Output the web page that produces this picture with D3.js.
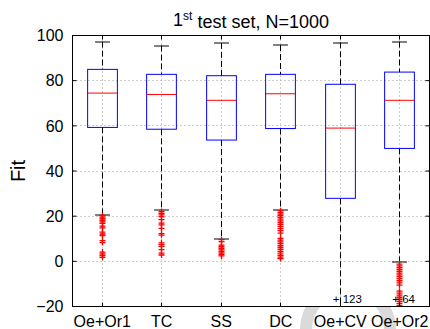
<!DOCTYPE html>
<html>
<head>
<meta charset="utf-8">
<script src="https://cdn.jsdelivr.net/npm/d3@7"></script>
<style>
  body { margin: 0; background: #fff; }
  text { font-family: "Liberation Sans", Arial, Helvetica, sans-serif; fill: #000; }
</style>
</head>
<body>
<div id="chart"></div>
<script>
// box statistics
let categories = ["Oe+Or1", "TC", "SS", "DC", "Oe+CV", "Oe+Or2"];
let upperWhisker = [97.3, 95.6, 96.7, 95.8, 97.0, 97.3];
let q3Values = [85.0, 82.8, 82.2, 82.8, 78.4, 83.8];
let medians = [74.5, 73.9, 71.3, 74.2, 59.0, 71.3];
let q1Values = [59.3, 58.5, 53.7, 58.8, 27.9, 50.0];
let lowerWhisker = [20.7, 22.9, 10.3, 22.9, -35, 0.0];
let outliers = [
    [20.3, 19.6, 18.9, 18.2, 17.5, 16.8, 15.6, 14.8, 12.9, 12.1, 11.4, 9.2, 8.3, 4.1, 3.3, 2.6, 1.8],
    [22.1, 21.3, 20.6, 19.8, 18.5, 16.9, 16.1, 14.6, 12.3, 11.6, 8.2, 7.4, 6.6, 5.2, 3.6, 2.8],
    [9.6, 8.7, 7.2, 6.5, 5.8, 5.1, 4.4, 3.7, 3.0, 2.4],
    [22.3, 21.6, 20.9, 20.2, 19.5, 18.7, 17.9, 17.1, 16.3, 15.4, 14.5, 13.6, 12.5, 10.2, 9.4, 8.6, 7.8, 6.9, 6.1, 5.3, 4.4, 3.6, 2.7, 1.9, 1.2],
    [],
    [-1.2, -2.0, -2.8, -3.6, -4.4, -5.2, -6.0, -6.8, -7.7, -8.6, -9.5, -10.5, -13.2, -14.1, -15.0, -15.9, -16.8, -17.7, -18.6, -19.5]
];
let offscaleCounts = [0, 0, 0, 0, 123, 64];
let yTicks = [-20, 0, 20, 40, 60, 80, 100];

let boxes = categories.map((c, i) => ({
    name: c, hi: upperWhisker[i], q3: q3Values[i], med: medians[i],
    q1: q1Values[i], lo: lowerWhisker[i], out: outliers[i], extra: offscaleCounts[i]
}));

let margin = {top: 35.5, right: 0.5, bottom: 22.5, left: 72.5},
    W = 430, H = 329,
    width = W - margin.left - margin.right,
    height = H - margin.top - margin.bottom;

let svg = d3.select("#chart").append("svg")
    .attr("width", W)
    .attr("height", H);

// faint watermark ring peeking out under the axes
svg.append("circle")
    .attr("cx", 348).attr("cy", 330).attr("r", 42)
    .attr("fill", "none")
    .attr("stroke", "#dadada")
    .attr("stroke-width", 12);

let g = svg.append("g").attr("transform", "translate(" + margin.left + "," + margin.top + ")");

g.append("rect").attr("width", width).attr("height", height).attr("fill", "#fff");

svg.append("defs").append("clipPath").attr("id", "clip")
    .append("rect").attr("width", width).attr("height", height);

let xScale = d3.scaleBand()
    .domain(categories)
    .range([0, width])
    .padding(0);

let yScale = d3.scaleLinear()
    .domain([-20, 100])
    .range([height, 0]);

let bw = xScale.bandwidth();
let cx = (d) => xScale(d) + bw / 2;

//Grid lines
let grid = g.append("g").attr("stroke", "#9a9a9a").attr("stroke-dasharray", "1,3").attr("stroke-width", 1);
grid.selectAll(".gy").data(yTicks.filter(t => t > -20 && t < 100)).enter().append("line")
    .attr("x1", 0).attr("x2", width)
    .attr("y1", d => Math.round(yScale(d))).attr("y2", d => Math.round(yScale(d)));
grid.selectAll(".gx").data(categories).enter().append("line")
    .attr("x1", d => Math.round(cx(d))).attr("x2", d => Math.round(cx(d)))
    .attr("y1", 0).attr("y2", height);

let plot = g.append("g").attr("clip-path", "url(#clip)");

let bx = plot.selectAll(".box").data(boxes).enter().append("g")
    .attr("transform", d => "translate(" + Math.round(cx(d.name)) + ",0)");

//Whiskers
bx.append("line")
    .attr("y1", d => yScale(d.hi)).attr("y2", d => yScale(d.q3))
    .attr("stroke", "#000").attr("stroke-dasharray", "6,3");
bx.append("line")
    .attr("y1", d => yScale(d.q1)).attr("y2", d => yScale(d.lo))
    .attr("stroke", "#000").attr("stroke-dasharray", "6,3");

//Caps
[["hi"], ["lo"]].forEach(k => {
    bx.append("line")
        .attr("x1", -bw * 0.125).attr("x2", bw * 0.125)
        .attr("y1", d => Math.round(yScale(d[k])) + 0.5).attr("y2", d => Math.round(yScale(d[k])) + 0.5)
        .attr("stroke", "#000");
});

//Boxes
bx.append("rect")
    .attr("x", -bw * 0.25).attr("width", bw * 0.5)
    .attr("y", d => yScale(d.q3)).attr("height", d => yScale(d.q1) - yScale(d.q3))
    .attr("fill", "none").attr("stroke", "#0000ff");

bx.append("line")
    .attr("x1", -bw * 0.25).attr("x2", bw * 0.25)
    .attr("y1", d => yScale(d.med)).attr("y2", d => yScale(d.med))
    .attr("stroke", "#ff0000");

//Outliers
bx.selectAll(".out").data(d => d.out).enter().append("path")
    .attr("d", d => "M-3," + yScale(d) + "h6M0," + (yScale(d) - 3) + "v6")
    .attr("stroke", "#ff0000").attr("stroke-width", 1.3).attr("fill", "none");

//Counts of points beyond the axis
g.selectAll(".extra").data(boxes.filter(d => d.extra > 0)).enter().append("text")
    .attr("x", d => cx(d.name) - 7.5)
    .attr("y", height - 3.5)
    .attr("font-size", "11.5px")
    .text(d => "+ " + d.extra);

//Frame and ticks
g.append("rect").attr("width", width).attr("height", height)
    .attr("fill", "none").attr("stroke", "#000");

g.selectAll(".tl").data(yTicks).enter().append("path")
    .attr("d", d => "M0," + yScale(d) + "h4M" + width + "," + yScale(d) + "h-4")
    .attr("stroke", "#000");
g.selectAll(".tx").data(categories).enter().append("path")
    .attr("d", d => "M" + Math.round(cx(d)) + "," + height + "v-4M" + Math.round(cx(d)) + ",0v4")
    .attr("stroke", "#000");

g.selectAll(".ylab").data(yTicks).enter().append("text")
    .attr("x", -9)
    .attr("y", d => yScale(d))
    .attr("dy", "0.36em")
    .attr("text-anchor", "end")
    .attr("font-size", "16px")
    .text(d => d == -20 ? "\u221220" : d);

g.selectAll(".xlab").data(categories).enter().append("text")
    .attr("x", d => cx(d))
    .attr("y", height + 20)
    .attr("text-anchor", "middle")
    .attr("font-size", "16px")
    .text(d => d);

svg.append("text")
    .attr("transform", "translate(25," + (margin.top + height / 2) + ") rotate(-90)")
    .attr("text-anchor", "middle")
    .attr("font-size", "20px")
    .text("Fit");

let title = svg.append("text")
    .attr("x", margin.left + width / 2)
    .attr("y", 25.5)
    .attr("text-anchor", "middle")
    .attr("font-size", "18px");
title.append("tspan").text("1");
title.append("tspan").attr("dy", "-0.45em").attr("font-size", "12px").text("st");
title.append("tspan").attr("dy", "0.45em").text(" test set, N=1000");
</script>
</body>
</html>
